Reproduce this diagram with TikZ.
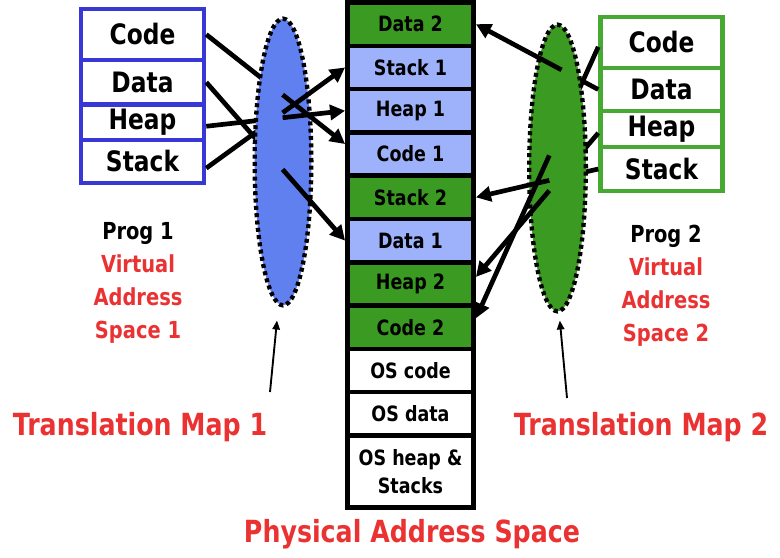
\documentclass[tikz,border=0pt]{standalone}
\usepackage{fontspec}
\setmainfont{DejaVu Sans}[FakeStretch=0.83]
\usepackage{tikz}
\usetikzlibrary{arrows.meta,positioning,calc,shapes.geometric}

\definecolor{progblue}{RGB}{56,56,214}
\definecolor{mapblue}{RGB}{96,128,240}
\definecolor{cellblue}{RGB}{157,178,250}
\definecolor{cellgreen}{RGB}{58,154,34}
\definecolor{proggreen}{RGB}{72,168,52}
\definecolor{labelred}{RGB}{234,50,50}

\begin{document}
\begin{tikzpicture}[x=0.03cm,y=-0.03cm,
    prog1cell/.style={draw=progblue,line width=0.135cm,fill=white,inner sep=1pt,minimum width=3.69cm,font=\fontsize{24}{28}\selectfont\bfseries},
    prog2cell/.style={prog1cell,draw=proggreen,minimum width=3.66cm},
    physcell/.style={draw=black,line width=0.135cm,inner sep=1pt,minimum width=3.79cm,minimum height=1.299cm,font=\fontsize{18}{24}\selectfont\bfseries},
    transmap/.style={ellipse,draw=black,line width=0.13cm,dash pattern=on 0.12cm off 0.1cm,minimum width=1.7cm,minimum height=8.6cm,inner sep=0pt},
    wire/.style={line width=4pt},
    maparrow/.style={-{Triangle[length=0.45cm,width=0.45cm]}},
    pointer/.style={line width=1.6pt,-{Triangle[length=0.27cm,width=0.22cm]}},
    redlabel/.style={text=labelred,font=\fontsize{26}{30}\selectfont\bfseries}]
          \useasboundingbox (0,0) rectangle (780,558);

          \node[prog1cell,minimum height=1.53cm] (p1code) at (142.5,34.5) {Code};
          \node[prog1cell,minimum height=1.335cm] (p1data) at (142.5,82.25) {Data};
          \node[prog1cell,minimum height=1.065cm] (p1heap) at (142.5,122.25) {Heap};
          \node[prog1cell,minimum height=1.29cm] (p1stack) at (142.5,161.5) {Stack};

          \node[prog2cell,minimum height=1.53cm] (p2code) at (661.5,42.5) {Code};
          \node[prog2cell,minimum height=1.29cm] (p2data) at (661.5,89.5) {Data};
          \node[prog2cell,minimum height=1.08cm] (p2heap) at (661.5,129) {Heap};
          \node[prog2cell,minimum height=1.32cm] (p2stack) at (661.5,169) {Stack};

          \node[physcell,fill=cellgreen] (pdata2) at (410.5,24.15) {Data 2};
          \node[physcell,fill=cellblue] (pstack1) at (410.5,67.45) {Stack 1};
          \node[physcell,fill=cellblue] (pheap1) at (410.5,110.75) {Heap 1};
          \node[physcell,fill=cellblue] (pcode1) at (410.5,154.05) {Code 1};
          \node[physcell,fill=cellgreen] (pstack2) at (410.5,197.35) {Stack 2};
          \node[physcell,fill=cellblue] (pdata1) at (410.5,240.65) {Data 1};
          \node[physcell,fill=cellgreen] (pheap2) at (410.5,283.95) {Heap 2};
          \node[physcell,fill=cellgreen] (pcode2) at (410.5,327.25) {Code 2};
          \node[physcell,fill=white] (poscode) at (410.5,370.55) {OS code};
          \node[physcell,fill=white] (posdata) at (410.5,413.85) {OS data};
          \node[physcell,fill=white,minimum height=2.16cm,align=center] (posheap) at (410.5,471.5) {OS heap \&\\Stacks};

          \coordinate (m1code) at ($(p1code.east)!0.55!([yshift=0.3cm]pcode1.west)$);
          \coordinate (m1data) at ($(p1data.east)!0.55!(pdata1.west)$);
          \coordinate (m1heap) at ($([yshift=-0.12cm]p1heap.east)!0.55!(pheap1.west)$);
          \coordinate (m1stack) at ($([yshift=-0.2cm]p1stack.east)!0.55!(pstack1.west)$);
          \coordinate (m2code) at ($([yshift=-0.13cm]p2code.west)!0.4!([yshift=0.27cm]pcode2.east)$);
          \coordinate (m2data) at ($(p2data.west)!0.3!(pdata2.east)$);
          \coordinate (m2heap) at ($([yshift=-0.12cm]p2heap.west)!0.4!([yshift=0.21cm]pheap2.east)$);
          \coordinate (m2stack) at ($(p2stack.west)!0.4!(pstack2.east)$);

          \draw[wire] (p1code.east) -- (m1code);
          \draw[wire] (p1data.east) -- (m1data);
          \draw[wire] ([yshift=-0.12cm]p1heap.east) -- (m1heap);
          \draw[wire] ([yshift=-0.2cm]p1stack.east) -- (m1stack);
          \draw[wire] ([yshift=-0.13cm]p2code.west) -- (m2code);
          \draw[wire] (p2data.west) -- (m2data);
          \draw[wire] ([yshift=-0.12cm]p2heap.west) -- (m2heap);
          \draw[wire] (p2stack.west) -- (m2stack);

          \node[transmap,fill=mapblue] (map1) at (283,162) {};
          \node[transmap,fill=cellgreen] (map2) at (557.5,168) {};

          \draw[wire,maparrow] (m1code) -- ([yshift=0.3cm]pcode1.west);
          \draw[wire,maparrow] (m1data) -- (pdata1.west);
          \draw[wire,maparrow] (m1heap) -- (pheap1.west);
          \draw[wire,maparrow] (m1stack) -- (pstack1.west);
          \draw[wire,maparrow] (m2code) -- ([yshift=0.27cm]pcode2.east);
          \draw[wire,maparrow] (m2data) -- (pdata2.east);
          \draw[wire,maparrow] (m2heap) -- ([yshift=0.21cm]pheap2.east);
          \draw[wire,maparrow] (m2stack) -- (pstack2.east);

          \node[align=center,font=\fontsize{20}{28.3}\selectfont\bfseries] (prog1) at (138,283) {Prog 1\\\textcolor{labelred}{Virtual}\\\textcolor{labelred}{Address}\\\textcolor{labelred}{Space 1}};
          \node[align=center,font=\fontsize{20}{28.3}\selectfont\bfseries] (prog2) at (666,286) {Prog 2\\\textcolor{labelred}{Virtual}\\\textcolor{labelred}{Address}\\\textcolor{labelred}{Space 2}};

          \node[redlabel] (tm1) at (140,427) {Translation Map 1};
          \node[redlabel] (tm2) at (641,427) {Translation Map 2};
          \node[redlabel] (phys) at (412,534) {Physical Address Space};

          \coordinate (tm1tail) at (270,392);
          \coordinate (tm2tail) at (567,398);
          \draw[pointer] (tm1tail) -- ([xshift=-0.18cm,yshift=-0.39cm]map1.south);
          \draw[pointer] (tm2tail) -- ([xshift=0.07cm,yshift=-0.21cm]map2.south);
        \end{tikzpicture}
\end{document}
